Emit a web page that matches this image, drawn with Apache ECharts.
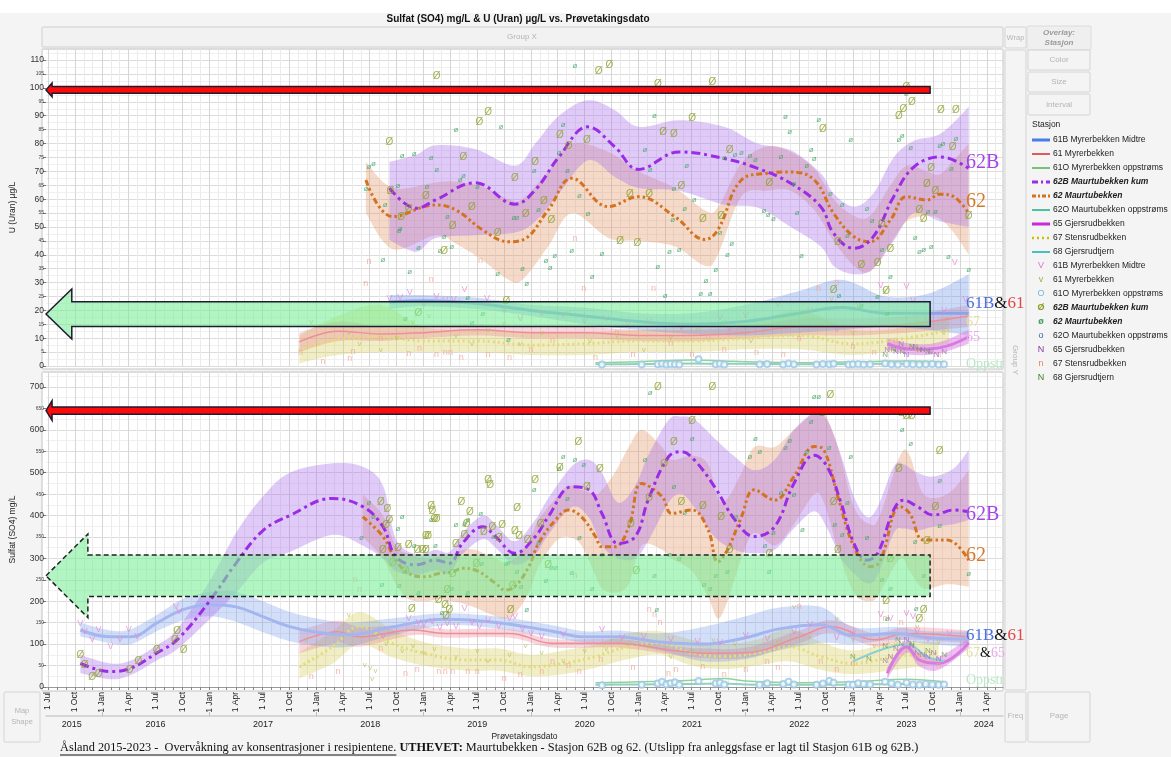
<!DOCTYPE html>
<html>
<head>
<meta charset="utf-8">
<script src="https://cdn.jsdelivr.net/npm/echarts@6/dist/echarts.min.js"></script>
<style>
html, body { margin: 0; padding: 0; background: #fff; }
#main { width: 1171px; height: 757px; }
</style>
</head>
<body>
<div id="main"></div>
<script>
// dates are decimal years, converted to timestamps below
var u62bYears = [2018.68, 2018.93, 2019.11, 2019.48, 2019.85, 2020.04, 2020.26, 2020.53, 2020.78, 2021.0, 2021.38, 2021.80, 2022.11, 2022.42, 2022.70, 2022.82, 2023.01, 2023.19, 2023.38, 2023.57, 2023.82, 2024.08];
var u62bMid = [64, 56.7, 59.7, 65.9, 58.2, 63.3, 75.2, 86, 78.8, 70.7, 77, 74.6, 71.1, 65.7, 57.3, 47.7, 42.3, 46.5, 60.9, 71.6, 75.2, 71.1];
var u62bHi = [73.4, 76, 79.4, 78, 72, 80, 90, 95.6, 92, 86, 88.4, 86, 80, 77.6, 69.3, 62, 57.3, 62, 75, 81, 83.6, 93.2];
var u62bLo = [45.3, 41.1, 46, 47, 48, 52, 62, 74, 68, 64, 63, 58, 57, 50, 43, 36, 33, 35, 45, 55, 52, 50];

var u62Years = [2018.46, 2018.71, 2019.11, 2019.30, 2019.55, 2019.79, 2019.92, 2020.16, 2020.38, 2020.72, 2021.0, 2021.34, 2021.62, 2021.74, 2021.96, 2022.20, 2022.42, 2022.64, 2022.82, 2023.01, 2023.16, 2023.35, 2023.50, 2023.69, 2023.81, 2023.94, 2024.08];
var u62Mid = [66.9, 53.7, 57.9, 56.1, 48.9, 44.7, 45.3, 56.1, 67.5, 57.3, 60.9, 53.7, 45.5, 48.9, 66.9, 69.3, 69.8, 66.9, 54.9, 46.5, 44.7, 52.5, 60.9, 59.7, 61.8, 60.9, 54.9];
var u62Hi = [73.4, 64, 66, 66.3, 64.5, 60, 60, 70, 80, 77, 70, 64, 56, 57, 73, 79, 77, 71, 60, 54, 54, 65, 72, 70, 69, 74, 80];
var u62Lo = [55, 42, 47, 44, 38, 31, 31, 43, 55, 46, 45, 43, 36, 40, 61, 63, 63, 56, 45, 36, 34, 44, 52, 54, 53, 48, 40];

var u61bYears = [2018.68, 2019.0, 2019.5, 2020.0, 2020.5, 2021.0, 2021.5, 2022.0, 2022.5, 2022.9, 2023.3, 2023.7, 2024.08];
var u61bMid = [23, 23.5, 22.5, 20, 18, 16, 15, 16, 19, 21, 19, 19, 19];
var u61bHi = [25.5, 25.5, 24.5, 22, 21, 19, 19, 22, 27, 31, 25, 26, 33];
var u61bLo = [20.5, 21.5, 20.5, 18, 15, 13, 11.5, 11, 12, 13, 14, 13, 11];

var u61Years = [2017.84, 2018.2, 2018.6, 2019.0, 2019.5, 2020.0, 2020.5, 2021.0, 2021.5, 2022.0, 2022.5, 2023.0, 2023.5, 2024.08];
var u61Mid = [8.7, 12.5, 11.5, 12, 13, 12, 12, 11, 11, 12, 14, 14, 15, 18];
var u61Hi = [12, 16, 14, 14, 15, 14, 14, 13, 13, 14, 17, 17, 18, 22];
var u61Lo = [5, 9, 9, 10, 11, 10, 10, 9, 9, 10, 11, 11, 12, 14];

var u67Years = [2017.84, 2018.2, 2018.6, 2019.0, 2019.5, 2020.0, 2020.5, 2021.0, 2021.5, 2022.0, 2022.5, 2023.0, 2023.5, 2023.9];
var u67Mid = [5.9, 9.5, 10.5, 9, 9, 7.5, 8, 9, 9, 10, 11, 8, 10, 13];
var u67Hi = [11, 18, 22, 14, 13, 12, 12, 13, 14, 15, 20, 13, 14, 18];
var u67Lo = [1, 4, 5, 5, 5, 4, 4, 5, 5, 6, 6, 4, 6, 8];

var u65Years = [2023.32, 2023.55, 2023.8, 2024.08];
var u65Mid = [8, 6, 6.5, 10.5];
var u65Hi = [10, 8, 8.5, 13];
var u65Lo = [6, 4, 4.5, 8];

var oppLineYears = [2020.6, 2021.0, 2021.5, 2021.8, 2022.0, 2022.5, 2023.0, 2023.5, 2023.85];
var u61oLine = [1.2, 1.5, 2.2, 1.8, 1.5, 1.2, 1.5, 1.8, 1.5];
var u62oLine = [0.6, 0.7, 0.9, 0.8, 0.8, 0.6, 0.7, 0.8, 0.7];

// Sulfat (SO4), smoothers
var s62bYears = [2015.80, 2016.08, 2016.27, 2016.51, 2016.70, 2017.01, 2017.25, 2017.50, 2017.75, 2018.15, 2018.43, 2018.62, 2018.74, 2018.93, 2019.11, 2019.24, 2019.36, 2019.55, 2019.67, 2019.85, 2020.04, 2020.16, 2020.38, 2020.54, 2020.66, 2020.81, 2020.97, 2021.09, 2021.28, 2021.40, 2021.52, 2021.71, 2021.90, 2022.08, 2022.27, 2022.45, 2022.64, 2022.76, 2022.89, 2023.01, 2023.13, 2023.23, 2023.38, 2023.47, 2023.60, 2023.75, 2023.94, 2024.08];
var s62bMid = [55, 36, 44, 79, 110, 203, 289, 365, 400, 440, 421, 374, 304, 285, 296, 289, 335, 374, 351, 312, 351, 397, 467, 460, 405, 335, 351, 436, 537, 549, 530, 467, 390, 351, 374, 475, 541, 514, 429, 335, 296, 312, 413, 436, 421, 401, 413, 409];
var s62bHi = [75, 55, 62, 97, 135, 250, 360, 445, 500, 522, 514, 470, 345, 310, 320, 315, 360, 400, 380, 340, 390, 440, 515, 530, 500, 430, 470, 540, 623, 631, 625, 580, 537, 506, 530, 600, 639, 623, 540, 444, 397, 420, 514, 520, 500, 491, 510, 553];
var s62bLo = [32, 18, 28, 62, 88, 160, 220, 290, 315, 355, 330, 300, 270, 262, 272, 265, 310, 345, 325, 285, 310, 355, 420, 395, 330, 300, 300, 340, 430, 450, 420, 350, 320, 312, 320, 370, 410, 370, 300, 265, 242, 260, 359, 370, 365, 374, 380, 390];

var s62Years = [2018.43, 2018.62, 2018.74, 2018.86, 2019.02, 2019.14, 2019.27, 2019.36, 2019.48, 2019.67, 2019.76, 2019.85, 2019.98, 2020.07, 2020.23, 2020.35, 2020.47, 2020.60, 2020.66, 2020.78, 2020.91, 2021.03, 2021.22, 2021.31, 2021.50, 2021.65, 2021.74, 2021.83, 2021.96, 2022.08, 2022.27, 2022.45, 2022.64, 2022.73, 2022.86, 2023.01, 2023.16, 2023.25, 2023.44, 2023.53, 2023.66, 2023.88, 2024.08];
var s62Mid = [397, 351, 296, 265, 257, 265, 269, 277, 273, 242, 226, 234, 281, 335, 390, 413, 397, 351, 327, 327, 374, 475, 444, 405, 413, 366, 292, 320, 397, 460, 436, 491, 561, 553, 444, 327, 281, 292, 421, 405, 343, 343, 296];
var s62Hi = [450, 400, 330, 310, 300, 305, 310, 320, 320, 300, 290, 300, 340, 390, 440, 470, 460, 450, 460, 500, 560, 600, 560, 530, 540, 520, 440, 440, 500, 560, 560, 600, 640, 640, 560, 420, 380, 400, 540, 540, 450, 450, 506];
var s62Lo = [350, 300, 240, 205, 200, 205, 200, 195, 185, 165, 160, 170, 220, 280, 340, 350, 330, 260, 230, 220, 240, 330, 320, 300, 270, 210, 160, 200, 300, 360, 330, 380, 450, 430, 320, 220, 200, 220, 300, 270, 230, 240, 234];

var s61bYears = [2015.80, 2016.08, 2016.27, 2016.51, 2016.75, 2017.01, 2017.25, 2017.50, 2017.75, 2018.0, 2018.3, 2018.7, 2019.2, 2019.7, 2020.2, 2020.5, 2020.8, 2021.2, 2021.6, 2022.0, 2022.3, 2022.7, 2023.0, 2023.4, 2023.7, 2024.08];
var s61bMid = [133, 117, 117, 149, 180, 192, 187, 164, 141, 128, 122, 140, 158, 150, 130, 117, 117, 105, 100, 115, 135, 145, 120, 125, 115, 112];
var s61bHi = [150, 132, 135, 168, 205, 222, 222, 200, 175, 160, 150, 160, 172, 164, 144, 130, 132, 125, 140, 165, 185, 187, 140, 140, 130, 130];
var s61bLo = [118, 102, 100, 130, 155, 165, 152, 128, 107, 96, 94, 120, 144, 136, 116, 104, 102, 85, 60, 65, 85, 103, 100, 110, 100, 94];

var s61Years = [2017.84, 2018.2, 2018.4, 2018.9, 2019.2, 2019.8, 2020.2, 2020.8, 2021.3, 2021.6, 2022.0, 2022.5, 2022.8, 2023.2, 2023.5, 2024.08];
var s61Mid = [106, 129, 117, 133, 125, 125, 102, 102, 86, 79, 80, 117, 141, 110, 125, 117];
var s61Hi = [133, 155, 140, 145, 135, 135, 112, 112, 96, 90, 92, 132, 156, 125, 140, 132];
var s61Lo = [79, 103, 94, 121, 115, 115, 92, 92, 76, 68, 68, 102, 126, 95, 110, 102];

var s67Years = [2017.84, 2018.15, 2018.4, 2018.7, 2019.0, 2019.4, 2019.7, 2020.0, 2020.3, 2020.6, 2020.9, 2021.2, 2021.5, 2021.8, 2022.1, 2022.4, 2022.7, 2023.0, 2023.4, 2023.8];
var s67Mid = [47, 94, 141, 102, 79, 63, 63, 47, 55, 71, 94, 102, 79, 71, 79, 94, 71, 55, 71, 79];
var s67Hi = [80, 130, 175, 135, 105, 90, 90, 75, 85, 100, 125, 130, 110, 100, 110, 135, 105, 85, 105, 105];
var s67Lo = [20, 55, 100, 70, 50, 38, 38, 25, 30, 45, 65, 75, 50, 42, 50, 60, 40, 30, 40, 55];

var s65Years = [2023.32, 2023.5, 2023.62, 2023.8, 2024.08];
var s65Mid = [32, 94, 63, 55, 103];
var s65Hi = [45, 108, 78, 70, 115];
var s65Lo = [20, 80, 48, 40, 90];

var s68Years = [2023.0, 2023.3, 2023.5, 2023.7, 2023.85];
var s68Mid = [60, 90, 100, 70, 60];

var s61oLine = [10, 12, 16, 20, 14, 10, 12, 18, 12];
var s62oLine = [5, 6, 7, 8, 6, 5, 6, 7, 6];

// sample points [decimal year, value]
var u62bPts = [[2019.12,104.2],[2018.68,80.6],[2019.60,91.4],[2019.52,87.5],[2019.37,74.9],[2018.69,62.7],[2018.86,56.3],[2018.79,53.4],[2019.02,61.1],[2019.27,50.1],[2019.19,41.4],[2019.45,57],[2019.69,47.7],[2019.85,67.6],[2019.95,54.4],[2020.04,73.1],[2020.12,59.4],[2020.19,52.5],[2020.27,83.1],[2020.35,79.1],[2020.52,81.2],[2020.63,106.1],[2020.73,108.3],[2020.83,44.8],[2020.99,44.3],[2020.92,61.6],[2021.10,61.6],[2021.18,101.3],[2021.23,83.9],[2021.33,83.4],[2021.40,64.8],[2019.77,23.4],[2018.95,19],[2021.69,102.2],[2021.50,89.1],[2021.60,52.9],[2021.77,53.7],[2021.85,77.6],[2022.22,65.9],[2022.72,85.3],[2022.86,44.6],[2023.08,36.4],[2023.23,36.9],[2023.27,51],[2023.35,42.1],[2023.43,89.9],[2023.47,92.5],[2023.55,94.8],[2023.50,100.4],[2023.82,91.8],[2023.96,92],[2023.93,78.8],[2023.73,71.2],[2023.69,65.4],[2023.77,62.9],[2023.62,56],[2023.66,52.6],[2024.08,53.7],[2023.31,26.8],[2022.82,27.1]];
var u62Pts = [[2018.49,71.6],[2018.53,72.8],[2018.46,63.6],[2018.80,75.6],[2018.91,76.2],[2019.07,74.9],[2019.12,70.5],[2018.76,64.9],[2018.64,57.9],[2018.77,48.6],[2018.78,49.5],[2018.95,42.5],[2018.62,38.1],[2018.87,34],[2019.03,64.5],[2019.15,41.4],[2019.19,46.3],[2019.26,42.9],[2019.22,53.7],[2019.30,85],[2019.34,67.1],[2019.37,68.3],[2019.50,64.3],[2019.72,85.9],[2019.69,33.3],[2019.84,53.3],[2019.87,53.3],[2019.92,34.8],[2019.96,29.5],[2020.03,70.2],[2020.07,56],[2020.14,37.7],[2020.18,35.2],[2020.22,39.5],[2020.30,86.7],[2020.26,76.5],[2020.34,70.1],[2020.38,41.4],[2020.41,108.1],[2020.45,61.3],[2020.53,54.9],[2020.57,31.9],[2020.66,40.3],[2021.06,77.6],[2021.11,70.7],[2021.18,35.5],[2021.25,25.2],[2021.15,90.1],[2021.29,41.2],[2021.38,41.7],[2021.33,63.7],[2021.32,52.5],[2019.41,24.4],[2019.55,18.7],[2019.45,15.6],[2018.83,17.1],[2019.79,9.6],[2021.43,56.5],[2021.52,59.7],[2021.45,71.9],[2021.58,26.1],[2021.63,30.8],[2021.67,25.8],[2021.72,34.7],[2021.76,47.9],[2021.83,40],[2021.87,43.9],[2021.80,75],[2021.90,76.1],[2021.96,76.8],[2022.04,75.6],[2022.09,74],[2022.17,55.8],[2022.21,54.4],[2022.26,52.8],[2022.33,75.2],[2022.37,89.6],[2022.41,84.1],[2022.45,65.4],[2022.48,55.2],[2022.52,39.5],[2022.57,72],[2022.61,77.9],[2022.64,74.4],[2022.68,88.7],[2022.79,61.8],[2022.87,25.2],[2022.90,58],[2022.95,47],[2022.98,81.5],[2023.13,56.5],[2023.18,52.2],[2023.27,41.9],[2023.35,32],[2023.23,24.9],[2023.43,81.2],[2023.46,82.9],[2023.50,97.8],[2023.54,78.5],[2023.58,46],[2023.62,41.2],[2023.66,41.9],[2023.73,42.7],[2023.70,55.4],[2023.77,55.4],[2023.81,79.1],[2023.84,79.8],[2023.96,81.7],[2023.92,70.9],[2023.89,39.3],[2024.08,34.5],[2023.32,18.9],[2023.08,21.7]];
var u61bPts = [[2018.68,24.3],[2018.78,24.5],[2018.87,26.5],[2019.0,22],[2019.12,24.9],[2019.2,23.5],[2019.28,24],[2019.38,27.6],[2019.59,24.3],[2019.75,20],[2019.9,17],[2020.1,19],[2020.3,18],[2020.5,16],[2020.7,17],[2020.9,15],[2021.1,16],[2021.4,14],[2021.76,17.6],[2021.85,13],[2022.0,18],[2022.3,22],[2022.6,20],[2022.85,13],[2023.05,22],[2023.26,29.1],[2023.5,28.5],[2023.56,23.7],[2023.7,16],[2023.85,20],[2023.95,37.1],[2024.05,24]];
var u61Pts = [[2017.95,16],[2018.3,12],[2018.4,8],[2018.6,6],[2018.75,10],[2018.9,16],[2019.05,18],[2019.3,11],[2019.45,8],[2019.6,13],[2019.75,15],[2019.9,8],[2020.1,12],[2020.35,19],[2020.55,9],[2020.8,11],[2021.05,6],[2021.3,10],[2021.55,13],[2021.8,16],[2022.05,9],[2022.3,14],[2022.55,20],[2022.8,24],[2023.0,12],[2023.3,27],[2023.6,16],[2023.85,12]];
var u67Pts = [[2017.85,5],[2018.06,1.5],[2018.31,2.8],[2018.34,5.1],[2018.46,29.7],[2018.49,37.6],[2018.6,10],[2018.86,4.6],[2018.96,6.4],[2019.07,31.2],[2019.12,4],[2019.2,5],[2019.25,5],[2019.35,3],[2019.53,38.1],[2019.6,4],[2019.8,3],[2020.0,6],[2020.2,9],[2020.41,45.9],[2020.49,27.9],[2020.6,3],[2020.8,12],[2020.95,4],[2021.14,27.9],[2021.3,8],[2021.5,4],[2021.65,11],[2021.8,6],[2021.95,14],[2022.1,5],[2022.35,4],[2022.5,10],[2022.68,28],[2022.85,30],[2023.0,7],[2023.2,5],[2023.4,9],[2023.6,6],[2023.8,4]];
var u65Pts = [[2023.32,6],[2023.4,5],[2023.45,8],[2023.5,4],[2023.58,7],[2023.65,6],[2023.72,5],[2023.78,4],[2023.85,5]];
var u68Pts = [[2023.3,4],[2023.38,6],[2023.46,5],[2023.55,7],[2023.62,6],[2023.7,5]];

var s62bPts = [[2015.80,73],[2015.84,50],[2015.91,23],[2015.97,30],[2016.26,38],[2016.34,61],[2016.51,85],[2016.68,108],[2016.70,131],[2016.76,86],[2018.60,432],[2018.66,415],[2018.68,390],[2018.65,378],[2018.62,320],[2018.71,289],[2018.76,324],[2018.83,269],[2018.86,330],[2018.89,181],[2018.94,320],[2018.99,320],[2019.02,320],[2019.07,421],[2019.08,410],[2019.10,391],[2019.12,391],[2019.02,351],[2019.04,351],[2019.14,203],[2019.20,190],[2019.22,226],[2019.24,180],[2019.21,164],[2019.27,264],[2019.30,334],[2019.35,432],[2019.38,353],[2019.40,380],[2019.43,408],[2019.49,286],[2019.56,362],[2019.60,483],[2019.62,471],[2019.64,373],[2019.73,378],[2019.70,347],[2019.81,180],[2019.83,236],[2019.85,363],[2019.87,416],[2019.89,352],[2019.97,343],[2020.04,483],[2020.09,380],[2020.16,285],[2020.27,511],[2020.44,572],[2020.52,467],[2020.64,509],[2020.93,380],[2020.98,269],[2021.10,440],[2021.24,520],[2021.18,699],[2021.33,570],[2021.40,430],[2021.69,699],[2021.50,619],[2021.60,421],[2021.77,396],[2021.85,320],[2022.22,310],[2022.72,639],[2022.79,680],[2022.82,430],[2022.86,320],[2023.31,200],[2023.35,299],[2023.43,509],[2023.46,639],[2023.50,631],[2023.55,631],[2023.62,159],[2023.66,180],[2023.69,339],[2023.77,419],[2023.81,549]];
var s62Pts = [[2018.42,349],[2018.49,429],[2018.53,397],[2018.61,238],[2018.76,368],[2018.80,397],[2018.77,236],[2018.91,329],[2018.95,220],[2019.11,329],[2019.07,390],[2019.17,172],[2019.26,230],[2019.30,378],[2019.38,380],[2019.41,391],[2019.41,219],[2019.53,405],[2019.54,287],[2019.65,351],[2019.77,287],[2019.79,290],[2019.87,268],[2019.91,233],[2019.96,180],[2020.03,460],[2020.07,337],[2020.14,248],[2020.19,279],[2020.23,279],[2020.26,508],[2020.30,537],[2020.34,439],[2020.38,267],[2020.41,530],[2020.45,347],[2020.49,518],[2020.57,228],[2020.66,308],[2021.06,530],[2021.15,259],[2021.17,180],[2021.11,687],[2021.29,308],[2021.33,467],[2021.38,298],[2021.43,407],[2021.50,579],[2021.61,238],[2021.67,229],[2021.72,259],[2021.83,269],[2021.91,397],[2022.04,537],[2022.09,579],[2022.13,549],[2022.18,329],[2022.22,269],[2022.26,359],[2022.33,452],[2022.37,558],[2022.41,574],[2022.45,448],[2022.53,366],[2022.57,549],[2022.61,618],[2022.64,677],[2022.68,677],[2022.78,558],[2022.83,378],[2022.90,356],[2022.95,429],[2022.98,537],[2023.13,347],[2023.27,251],[2023.35,229],[2023.46,600],[2023.54,567],[2023.58,339],[2023.66,259],[2023.81,481],[2023.81,376],[2023.59,183],[2023.32,159],[2024.08,265]];
var s61bPts = [[2015.80,149],[2015.84,129],[2015.91,110],[2015.97,133],[2016.08,94],[2016.17,110],[2016.25,133],[2016.33,117],[2016.69,187],[2016.72,175],[2018.62,117],[2018.86,160],[2018.95,150],[2019.0,145],[2019.08,152],[2019.15,138],[2019.22,148],[2019.3,140],[2019.38,184],[2019.45,150],[2019.52,142],[2019.6,155],[2019.7,140],[2019.8,160],[2019.85,164],[2019.92,135],[2020.0,125],[2020.1,118],[2020.3,122],[2020.66,133],[2020.85,115],[2021.05,118],[2021.3,110],[2021.55,105],[2021.76,103],[2022.0,120],[2022.2,112],[2022.45,129],[2022.6,145],[2022.85,115],[2023.0,125],[2023.26,168],[2023.35,160],[2023.5,172],[2023.56,165],[2023.6,130],[2023.7,110],[2023.9,125]];
var s61Pts = [[2017.9,110],[2018.3,168],[2018.45,51],[2018.5,45],[2018.55,38],[2018.52,20],[2018.65,100],[2018.8,85],[2018.9,95],[2019.0,80],[2019.1,90],[2019.3,70],[2019.5,85],[2019.6,60],[2019.8,75],[2019.95,95],[2020.1,80],[2020.3,60],[2020.5,85],[2020.7,90],[2020.9,100],[2021.1,95],[2021.3,70],[2021.5,85],[2021.7,110],[2021.9,100],[2022.1,90],[2022.3,105],[2022.45,187],[2022.6,120],[2022.85,160],[2023.0,110],[2023.2,95],[2023.4,100],[2023.6,140],[2023.8,105]];
var s67Pts = [[2017.95,24],[2018.2,36],[2018.36,250],[2018.4,228],[2018.6,90],[2018.83,32],[2018.94,40],[2019.14,36],[2019.2,36],[2019.27,36],[2019.41,36],[2019.5,36],[2019.75,20],[2019.9,30],[2020.1,36],[2020.2,60],[2020.35,51],[2020.41,261],[2020.45,36],[2020.65,63],[2020.95,45],[2021.1,180],[2021.15,168],[2021.2,150],[2021.28,32],[2021.35,40],[2021.55,71],[2021.6,47],[2021.8,30],[2022.0,40],[2022.2,59],[2022.3,45],[2022.5,187],[2022.7,60],[2022.85,40],[2023.0,55],[2023.3,160],[2023.45,150],[2023.6,70],[2023.8,50]];
var s65Pts = [[2023.3,60],[2023.35,70],[2023.4,90],[2023.45,100],[2023.5,110],[2023.55,95],[2023.6,80],[2023.65,75],[2023.7,70],[2023.75,80],[2023.8,65]];
var s68Pts = [[2023.0,70],[2023.15,65],[2023.3,95],[2023.42,110],[2023.55,100],[2023.7,85],[2023.85,75]];

var oppYears = [2020.66, 2021.03, 2021.18, 2021.22, 2021.26, 2021.30, 2021.34, 2021.38, 2021.56, 2021.72, 2021.76, 2021.80, 2022.13, 2022.20, 2022.35, 2022.40, 2022.45, 2022.66, 2022.72, 2022.78, 2022.82, 2022.96, 2023.00, 2023.05, 2023.10, 2023.16, 2023.30, 2023.36, 2023.42, 2023.50, 2023.56, 2023.62, 2023.68, 2023.74, 2023.80, 2023.85];
var oppTop = [0.5, 0.5, 0.6, 0.8, 0.5, 0.7, 0.6, 0.5, 2.4, 0.6, 0.8, 0.5, 0.6, 0.7, 0.5, 0.9, 0.6, 0.5, 0.7, 0.6, 0.8, 0.5, 0.6, 0.7, 0.5, 0.6, 0.9, 0.6, 0.5, 0.7, 0.6, 0.5, 0.6, 0.7, 0.5, 0.6];
var oppBot = [4, 5, 8, 12, 6, 9, 11, 5, 14, 8, 10, 6, 5, 9, 7, 12, 6, 5, 8, 14, 10, 6, 5, 9, 7, 6, 12, 8, 5, 10, 6, 5, 7, 6, 5, 6];

var yearLabelPos = [2015.72, 2016.5, 2017.5, 2018.5, 2019.5, 2020.5, 2021.5, 2022.5, 2023.5, 2024.22];
var monthNames = ['Jan', 'Feb', 'Mar', 'Apr', 'May', 'Jun', 'Jul', 'Aug', 'Sep', 'Oct', 'Nov', 'Dec'];

var xMin = Date.UTC(2015, 5, 25);
var xMax = Date.UTC(2024, 4, 26);

function yd(y) {
    var yr = Math.floor(y);
    var a = Date.UTC(yr, 0, 1), b = Date.UTC(yr + 1, 0, 1);
    return a + (y - yr) * (b - a);
}
function pairs(years, vals) {
    return years.map(function (y, i) { return [yd(y), vals[i]]; });
}

var monthTicks = [], quarterTicks = [], yearTicks = [];
for (var yy = 2015; yy <= 2024; yy++) {
    for (var mm = 0; mm < 12; mm++) {
        var t = Date.UTC(yy, mm, 1);
        if (t < xMin || t > xMax) continue;
        monthTicks.push(t);
        if (mm % 3 === 0) quarterTicks.push(t);
        if (mm === 0) yearTicks.push(t);
    }
}

var FONT = 'Liberation Sans, Arial, sans-serif';
var SERIF = 'Liberation Serif, Times New Roman, serif';

function gridLines(g) {
    return {
        type: 'line', xAxisIndex: g, yAxisIndex: g, data: [[xMin, -100]], symbol: 'none',
        lineStyle: {opacity: 0}, silent: true, z: 1,
        markLine: {
            silent: true, symbol: ['none', 'none'], label: {show: false}, z: 1,
            data: monthTicks.map(function (t) {
                var q = new Date(t).getUTCMonth() % 3 === 0;
                return {xAxis: t, lineStyle: {color: q ? '#d6d6d6' : '#ebebeb', width: 1, type: 'solid'}};
            })
        }
    };
}

// catmull-rom through projected pixel points, only for drawing the band edges
function spline(pts, steps) {
    var out = [];
    for (var i = 0; i < pts.length - 1; i++) {
        var p0 = pts[Math.max(i - 1, 0)], p1 = pts[i], p2 = pts[i + 1], p3 = pts[Math.min(i + 2, pts.length - 1)];
        for (var s = 0; s < steps; s++) {
            var t = s / steps, t2 = t * t, t3 = t2 * t;
            var xy = [0, 1].map(function (k) {
                return 0.5 * (2 * p1[k] + (p2[k] - p0[k]) * t + (2 * p0[k] - 5 * p1[k] + 4 * p2[k] - p3[k]) * t2 + (3 * p1[k] - p0[k] - 3 * p2[k] + p3[k]) * t3);
            });
            out.push(xy);
        }
    }
    out.push(pts[pts.length - 1]);
    return out;
}

function band(g, years, lo, hi, color) {
    var data = years.map(function (y, i) { return [yd(y), lo[i], hi[i]]; });
    return {
        type: 'custom', xAxisIndex: g, yAxisIndex: g, silent: true, z: 2, data: data,
        encode: {x: 0, y: [1, 2]},
        renderItem: function (params, api) {
            if (params.dataIndex !== 0) return null;
            var up = spline(data.map(function (d) { return api.coord([d[0], d[2]]); }), 8);
            var dn = spline(data.map(function (d) { return api.coord([d[0], d[1]]); }), 8).reverse();
            return {type: 'polygon', shape: {points: up.concat(dn)}, style: {fill: color}};
        }
    };
}

function smoother(g, years, mid, lo, hi, fill, color, width, dash) {
    var out = [];
    if (lo) out.push(band(g, years, lo, hi, fill));
    out.push({
        type: 'line', xAxisIndex: g, yAxisIndex: g, data: pairs(years, mid),
        smooth: 0.4, symbol: 'none', silent: true, z: 3,
        lineStyle: {color: color, width: width, type: dash || 'solid', cap: 'butt'}
    });
    return out;
}

function glyphs(g, pts, ch, color, size, weight) {
    return {
        type: 'scatter', xAxisIndex: g, yAxisIndex: g, silent: true, z: 4,
        data: pts.map(function (p) { return [yd(p[0]), p[1]]; }),
        symbol: 'circle', symbolSize: 1, itemStyle: {color: 'rgba(0,0,0,0)'},
        label: {show: true, position: 'inside', formatter: ch, color: color, fontSize: size, fontWeight: weight || 'normal', fontFamily: FONT}
    };
}

function circles(g, years, vals) {
    return {
        type: 'scatter', xAxisIndex: g, yAxisIndex: g, silent: true, z: 4,
        data: pairs(years, vals), symbol: 'emptyCircle', symbolSize: 6,
        itemStyle: {color: '#9cc8e6', borderColor: '#9cc8e6', borderWidth: 1}
    };
}

var PURPLE_DASH = [9, 4, 3, 4];
var ORANGE_DASH = [6, 3, 2.5, 3, 2.5, 3];

var series = [gridLines(0), gridLines(1)];
series = series.concat(
    smoother(0, u67Years, u67Mid, u67Lo, u67Hi, 'rgba(215,205,90,0.35)', '#e4da78', 3, [2, 3]),
    smoother(0, u61Years, u61Mid, u61Lo, u61Hi, 'rgba(235,120,135,0.3)', '#ec8f9a', 1.5, null),
    smoother(0, u61bYears, u61bMid, u61bLo, u61bHi, 'rgba(110,150,235,0.35)', '#8aa4ea', 3, null),
    smoother(0, u65Years, u65Mid, u65Lo, u65Hi, 'rgba(215,110,225,0.45)', '#d77be0', 3, null),
    smoother(0, oppLineYears, u61oLine, null, null, null, '#8fd39a', 1.5, null),
    smoother(0, oppLineYears, u62oLine, null, null, null, '#8ed0c4', 2, null),
    smoother(0, u62Years, u62Mid, u62Lo, u62Hi, 'rgba(225,150,100,0.35)', '#d4721f', 3, ORANGE_DASH),
    smoother(0, u62bYears, u62bMid, u62bLo, u62bHi, 'rgba(170,110,235,0.36)', '#9b2be6', 3, PURPLE_DASH),

    smoother(1, s67Years, s67Mid, s67Lo, s67Hi, 'rgba(215,205,90,0.35)', '#e4da78', 3, [2, 3]),
    smoother(1, s61Years, s61Mid, s61Lo, s61Hi, 'rgba(235,120,135,0.3)', '#ec8f9a', 1.5, null),
    smoother(1, s61bYears, s61bMid, s61bLo, s61bHi, 'rgba(110,150,235,0.3)', '#a4b6ef', 3, null),
    smoother(1, s65Years, s65Mid, s65Lo, s65Hi, 'rgba(215,110,225,0.45)', '#d77be0', 3, null),
    smoother(1, s68Years, s68Mid, null, null, null, '#8ccfcf', 2, null),
    smoother(1, oppLineYears, s61oLine, null, null, null, '#8fd39a', 1.5, null),
    smoother(1, oppLineYears, s62oLine, null, null, null, '#8ed0c4', 2, null),
    smoother(1, s62Years, s62Mid, s62Lo, s62Hi, 'rgba(225,150,100,0.35)', '#d4721f', 3, ORANGE_DASH),
    smoother(1, s62bYears, s62bMid, s62bLo, s62bHi, 'rgba(170,110,235,0.36)', '#9b2be6', 3, PURPLE_DASH)
);
series.push(
    glyphs(0, u67Pts, 'n', '#f2a896', 9),
    glyphs(0, u61Pts, 'v', '#b4c45c', 8),
    glyphs(0, u61bPts, 'V', '#e787d8', 9),
    glyphs(0, u65Pts, 'N', '#9a6cc0', 8),
    glyphs(0, u68Pts, 'N', '#6a9a48', 8),
    circles(0, oppYears, oppTop),
    glyphs(0, u62Pts, 'ø', '#3fa565', 8),
    glyphs(0, u62bPts, 'Ø', '#8c9f26', 10),

    glyphs(1, s67Pts, 'n', '#f2a896', 9),
    glyphs(1, s61Pts, 'v', '#b4c45c', 8),
    glyphs(1, s61bPts, 'V', '#e787d8', 9),
    glyphs(1, s65Pts, 'N', '#9a6cc0', 8),
    glyphs(1, s68Pts, 'N', '#6a9a48', 8),
    circles(1, oppYears, oppBot),
    glyphs(1, s62Pts, 'ø', '#3fa565', 8),
    glyphs(1, s62bPts, 'Ø', '#8c9f26', 10)
);

function yAxisFor(g, max, step, big, name) {
    return {
        type: 'value', gridIndex: g, min: 0, max: max, interval: step,
        name: name, nameLocation: 'middle', nameGap: 29,
        nameTextStyle: {fontSize: 8.5, color: '#222', fontFamily: FONT},
        axisLine: {show: false},
        axisTick: {show: true, length: 3, lineStyle: {color: '#777'}},
        axisLabel: {
            margin: 2, showMaxLabel: false, fontFamily: FONT,
            formatter: function (v) { return (v % big === 0 ? '{a|' : '{b|') + v + '}'; },
            rich: {a: {fontSize: 8.5, color: '#333', fontFamily: FONT}, b: {fontSize: 5, color: '#444', fontFamily: FONT}}
        },
        splitLine: {show: true, lineStyle: {color: '#dcdcdc'}},
        minorTick: {show: false, splitNumber: 2},
        minorSplitLine: {show: true, lineStyle: {color: '#f0f0f0'}}
    };
}

var option = {
    animation: false,
    backgroundColor: '#f4f4f4',
    textStyle: {fontFamily: FONT},
    grid: [
        {left: 42, top: 49, width: 961, height: 317},
        {left: 42, top: 372, width: 961, height: 315}
    ],
    xAxis: [
        {type: 'value', gridIndex: 0, min: xMin, max: xMax, position: 'bottom', axisLine: {show: false}, axisTick: {show: false}, axisLabel: {show: false}, splitLine: {show: false}},
        {
            type: 'value', gridIndex: 1, min: xMin, max: xMax, position: 'bottom',
            axisLine: {show: true, lineStyle: {color: '#999'}},
            axisTick: {show: true, customValues: monthTicks, length: 3, lineStyle: {color: '#888'}},
            axisLabel: {
                customValues: quarterTicks, rotate: 90, fontSize: 8.5, color: '#222', margin: 5, fontFamily: FONT,
                formatter: function (v) { return '1 ' + monthNames[new Date(v).getUTCMonth()]; }
            },
            splitLine: {show: false}
        },
        {
            type: 'value', gridIndex: 1, min: xMin, max: xMax, position: 'bottom', offset: 29,
            axisLine: {show: true, lineStyle: {color: '#cccccc', width: 1.5}},
            axisTick: {show: true, customValues: yearTicks, inside: true, length: 4, lineStyle: {color: '#bbbbbb'}},
            axisLabel: {
                customValues: yearLabelPos.map(yd), fontSize: 9, color: '#222', margin: 4, fontFamily: FONT,
                formatter: function (v) { return String(new Date(v).getUTCFullYear()); }
            },
            splitLine: {show: false},
            name: 'Prøvetakingsdato', nameLocation: 'middle', nameGap: 16,
            nameTextStyle: {fontSize: 8.5, color: '#222', fontFamily: FONT}
        }
    ],
    yAxis: [
        yAxisFor(0, 114, 5, 10, 'U (Uran) µg/L'),
        yAxisFor(1, 735, 50, 100, 'Sulfat (SO4) mg/L')
    ],
    series: series
};

var chart = echarts.init(document.getElementById('main'));
chart.setOption(option);

// annotation arrows, in axis units
var arrowSpec = [
    {g: 0, y: 99.3, body: 1.2, wing: 2.5, head: 2015.536, end: 2023.72, fill: '#ff0a0a', stroke: '#1c1c30', dash: null},
    {g: 0, y: 18.7, body: 4.45, wing: 9, head: 2015.72, end: 2023.72, fill: 'rgba(120,238,150,0.58)', stroke: '#1c1c30', dash: null},
    {g: 1, y: 645, body: 8.5, wing: 23, head: 2015.536, end: 2023.72, fill: '#ff0a0a', stroke: '#1c1c30', dash: null},
    {g: 1, y: 259.5, body: 48.5, wing: 97.5, head: 2015.87, end: 2023.72, fill: 'rgba(120,238,150,0.58)', stroke: '#222', dash: [5, 3]}
];

function arrowPoints(a) {
    var f = {gridIndex: a.g};
    var tip = chart.convertToPixel(f, [xMin, a.y]);
    var base = chart.convertToPixel(f, [yd(a.head), a.y]);
    var end = chart.convertToPixel(f, [yd(a.end), a.y]);
    var bh = Math.abs(chart.convertToPixel(f, [xMin, a.y + a.body])[1] - tip[1]);
    var hh = Math.abs(chart.convertToPixel(f, [xMin, a.y + a.wing])[1] - tip[1]);
    return [
        [tip[0], tip[1]], [base[0], base[1] - hh], [base[0], base[1] - bh],
        [end[0], end[1] - bh], [end[0], end[1] + bh], [base[0], base[1] + bh], [base[0], base[1] + hh]
    ];
}

function box(x, y, w, h, fill, stroke) {
    return {type: 'rect', z: -1, shape: {x: x, y: y, width: w, height: h, r: 1}, style: {fill: fill, stroke: stroke, lineWidth: 1}};
}
function label(x, y, text, opts) {
    var st = {text: text, x: 0, y: 0, align: 'center', verticalAlign: 'middle', fontSize: 8, fontFamily: FONT, fill: '#b4b4b4'};
    for (var k in opts) st[k] = opts[k];
    return {type: 'text', x: x, y: y, z: 60, style: st};
}

var els = [];
els.push({type: 'rect', z: -2, shape: {x: 0, y: 0, width: 1171, height: 13}, style: {fill: '#ffffff'}});
els.push(box(42, 49, 961, 320, '#ffffff', '#c4c4c4'));
els.push(box(42, 372, 961, 319, '#ffffff', '#c4c4c4'));
els.push(box(42, 27, 961, 20, '#f2f2f2', '#cfcfcf'));
els.push(label(522, 37, 'Group X', {fontSize: 8}));
els.push(label(518, 19, 'Sulfat (SO4) mg/L & U (Uran) µg/L vs. Prøvetakingsdato', {fontSize: 10, fontWeight: 'bold', fill: '#111'}));

els.push(box(1005, 27, 21, 21, '#f4f4f4', '#d4d4d4'));
els.push(label(1015.5, 37.5, 'Wrap', {fontSize: 7.5}));
els.push(box(1027, 26, 64, 24, '#efefef', '#dcdcd4'));
els.push(label(1059, 38, 'Overlay:\nStasjon', {fontSize: 8, fontStyle: 'italic', fontWeight: 'bold', fill: '#9a9a9a', lineHeight: 10}));
els.push(box(1028, 50, 62, 20, '#f4f4f4', '#d4d4d4'));
els.push(label(1059, 60, 'Color', {}));
els.push(box(1028, 72, 62, 20, '#f4f4f4', '#d4d4d4'));
els.push(label(1059, 82, 'Size', {}));
els.push(box(1028, 94, 62, 21, '#f4f4f4', '#d4d4d4'));
els.push(label(1059, 104.5, 'Interval', {}));
els.push(box(1005, 50, 21, 640, '#f4f4f4', '#d4d4d4'));
els.push({type: 'text', x: 1015.5, y: 360, rotation: -Math.PI / 2, z: 60, style: {text: 'Group Y', x: 0, y: 0, align: 'center', verticalAlign: 'middle', fontSize: 8, fontFamily: FONT, fill: '#b4b4b4'}});
els.push(box(4, 692, 36, 50, '#f4f4f4', '#d4d4d4'));
els.push(label(22, 716, 'Map\nShape', {fontSize: 7.5, lineHeight: 11}));
els.push(box(1005, 692, 21, 50, '#f4f4f4', '#d4d4d4'));
els.push(label(1015.5, 716, 'Freq', {fontSize: 7.5}));
els.push(box(1028, 692, 62, 50, '#f4f4f4', '#d4d4d4'));
els.push(label(1059, 716, 'Page', {}));

// legend
var legendRows = [
    {line: '#4a7be8', w: 3, text: '61B Myrerbekken Midtre'},
    {line: '#e05a5a', w: 2, text: '61 Myrerbekken'},
    {line: '#4caf50', w: 1.5, text: '61O Myrerbekken oppstrøms'},
    {line: '#9b2be6', w: 3, dash: [6, 3, 2, 3], text: '62B Maurtubekken kum', bold: true},
    {line: '#d4721f', w: 3, dash: [4, 2, 2, 2], text: '62 Maurtubekken', bold: true},
    {line: '#4cc0a0', w: 2, text: '62O Maurtubekken oppstrøms'},
    {line: '#c828d8', w: 3, text: '65 Gjersrudbekken'},
    {line: '#c8c000', w: 2.5, dash: [2, 3], text: '67 Stensrudbekken'},
    {line: '#48c0c0', w: 2, text: '68 Gjersrudtjern'},
    {ch: 'V', color: '#e070d0', text: '61B Myrerbekken Midtre'},
    {ch: 'v', color: '#a0b040', text: '61 Myrerbekken'},
    {ch: 'O', color: '#70b8e0', text: '61O Myrerbekken oppstrøms'},
    {ch: 'Ø', color: '#8a9a20', text: '62B Maurtubekken kum', bold: true},
    {ch: 'ø', color: '#3aa060', text: '62 Maurtubekken', bold: true},
    {ch: 'o', color: '#4060c0', text: '62O Maurtubekken oppstrøms'},
    {ch: 'N', color: '#8040a0', text: '65 Gjersrudbekken'},
    {ch: 'n', color: '#f08060', text: '67 Stensrudbekken'},
    {ch: 'N', color: '#408020', text: '68 Gjersrudtjern'}
];
els.push(label(1032, 125, 'Stasjon', {align: 'left', fontSize: 8.5, fill: '#222'}));
legendRows.forEach(function (r, i) {
    var y = 140 + i * 14;
    if (r.line) {
        els.push({type: 'line', z: 60, shape: {x1: 1032, y1: y, x2: 1050, y2: y}, style: {stroke: r.line, lineWidth: r.w, lineDash: r.dash || null}});
    } else {
        els.push(label(1041, y, r.ch, {fontSize: 9, fill: r.color, fontWeight: r.bold ? 'bold' : 'normal'}));
    }
    els.push(label(1053, y, r.text, {align: 'left', fontSize: 8.5, fill: '#222', fontWeight: r.bold ? 'bold' : 'normal', fontStyle: r.bold ? 'italic' : 'normal'}));
});

arrowSpec.forEach(function (a) {
    els.push({type: 'polygon', z: 50, shape: {points: arrowPoints(a)}, style: {fill: a.fill, stroke: a.stroke, lineWidth: 1.5, lineDash: a.dash}});
});

// station tags at the right end of the curves
var tags = [
    {g: 0, v: 73, rich: '{p|62B}', size: 20},
    {g: 0, v: 59, rich: '{o|62}', size: 20},
    {g: 0, v: 22.5, rich: '{b|61B}{k|&}{r|61}', size: 17},
    {g: 0, v: 15.8, rich: '{y|67}', size: 14},
    {g: 0, v: 10.4, rich: '{m|65}', size: 14},
    {g: 0, v: 0.7, rich: '{g|Oppstr}', size: 14},
    {g: 1, v: 401, rich: '{p|62B}', size: 20},
    {g: 1, v: 306, rich: '{o|62}', size: 20},
    {g: 1, v: 119, rich: '{b|61B}{k|&}{r|61}', size: 17},
    {g: 1, v: 79, rich: '{y|67}{k|&}{m|65}', size: 14},
    {g: 1, v: 16, rich: '{g|Oppstr}', size: 14}
];
tags.forEach(function (t) {
    var py = chart.convertToPixel({gridIndex: t.g}, [xMin, t.v])[1];
    var c = {p: '#a345ea', o: '#d4782a', b: '#4a6fe0', k: '#111', r: '#e04848', y: '#e6de98', m: '#eba8f0', g: '#b9e8c6'};
    var rich = {};
    for (var k in c) rich[k] = {fill: c[k], fontSize: t.size, fontFamily: SERIF};
    els.push({type: 'text', x: 966, y: py, z: 61, style: {text: t.rich, rich: rich, x: 0, y: 0, align: 'left', verticalAlign: 'middle', fontSize: t.size, fontFamily: SERIF}});
});

// caption
var CAP = 12.3;
var ctx = document.createElement('canvas').getContext('2d');
var cap1 = 'Åsland 2015-2023 -  Overvåkning av konsentrasjoner i resipientene.';
var cap2 = ' UTHEVET:';
var cap3 = ' Maurtubekken - Stasjon 62B og 62. (Utslipp fra anleggsfase er lagt til Stasjon 61B og 62B.)';
ctx.font = CAP + 'px "Liberation Serif"';
var w1 = ctx.measureText(cap1).width;
ctx.font = 'bold ' + CAP + 'px "Liberation Serif"';
var w2 = ctx.measureText(cap2).width;
var cx = 60, cy = 748;
els.push(label(cx, cy, cap1, {align: 'left', fontSize: CAP, fontFamily: SERIF, fill: '#111'}));
els.push({type: 'line', z: 60, shape: {x1: cx, y1: cy + 7, x2: cx + w1, y2: cy + 7}, style: {stroke: '#111', lineWidth: 1}});
els.push(label(cx + w1, cy, cap2, {align: 'left', fontSize: CAP, fontFamily: SERIF, fill: '#111', fontWeight: 'bold'}));
els.push(label(cx + w1 + w2, cy, cap3, {align: 'left', fontSize: CAP, fontFamily: SERIF, fill: '#111'}));

chart.setOption({graphic: {elements: els}});
</script>
</body>
</html>
